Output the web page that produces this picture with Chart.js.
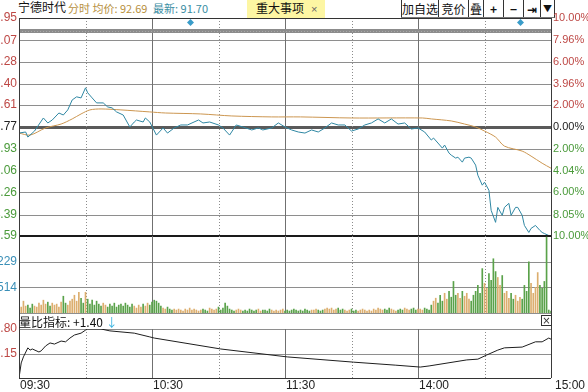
<!DOCTYPE html>
<html><head><meta charset="utf-8">
<script src="https://cdn.jsdelivr.net/npm/chart.js@4.4.1/dist/chart.umd.min.js"></script>
<style>
html,body{margin:0;padding:0;background:#fff}
body{width:588px;height:392px;overflow:hidden;position:relative;font-family:"Liberation Sans",Arial,"Noto Sans CJK SC",sans-serif}
canvas{position:absolute;left:0}
.t{position:absolute;white-space:nowrap;font-size:12px;line-height:14px}
.cjk{font-family:"Noto Sans CJK SC","Liberation Sans",sans-serif}
#evt{position:absolute;left:247px;top:0;width:78px;height:19px;background:#fdf6a3}
.btns{position:absolute;left:401px;top:0;height:17px;border-bottom:1px solid #777;border-right:1px solid #333;display:flex}
.btns span{display:block;height:17px;border-left:1px solid #333;font-size:12px;line-height:17px;text-align:center;color:#111;font-family:"Noto Sans CJK SC","DejaVu Sans",sans-serif}
#xbox{position:absolute;left:541px;top:315px;width:9px;height:9px;border:1px solid #333;font-size:10px;line-height:9px;text-align:center;color:#333;font-family:"DejaVu Sans",sans-serif}
</style></head><body>
<div class="t cjk" style="left:18px;top:0px;color:#111">宁德时代</div>
<div class="t cjk" style="left:68px;top:1px;font-size:11px;color:#b8913f">分时&nbsp;均价: 92.69</div>
<div class="t cjk" style="left:153px;top:1px;font-size:11px;color:#3b8ea3">最新: 91.70</div>
<div id="evt"></div>
<div class="t cjk" style="left:256px;top:1px;font-size:12px;color:#111">重大事项</div>
<div class="t" style="left:311px;top:2px;font-size:11px;color:#666">×</div>
<div class="btns">
<span style="width:36px">加自选</span><span style="width:29px">竞价</span><span style="width:14px">叠</span><span style="width:19px;font-weight:bold">+</span><span style="width:19px;font-weight:bold">−</span><span style="width:16px;font-weight:bold">⇥</span><span style="width:13px;font-size:9px">▼</span>
</div>
<canvas id="c1" width="588" height="240" style="top:0"></canvas>
<canvas id="c2" width="588" height="80" style="top:236px"></canvas>
<canvas id="c3" width="588" height="79" style="top:313px"></canvas>
<div class="t cjk" style="left:19px;top:315px;color:#111">量比指标: +1.40 <span style="color:#3cb4e0">↓</span></div>
<div id="xbox">×</div>
<script>
// ---------- data ----------
const prevClose = 91.77;
const priceTime = [0,3,4,7,11,13,15,18,20,22,24,26,28,30,31,33,35,38,40,42,44,47,50,52,53,56,57,59,62,65,67,70,73,76,81,83,86,90,92,95,98,101,105,108,110,114,117,120,123,126,129,132,135,138,141,144,147,150,153,156,159,162,165,168,171,174,177,180,183,186,187,189,191,192,194,195,197,198,200,201,203,204,206,207,209,210,212,213,215,216,218,219,221,222,224,225,227,228,230,231,233,235,236,237,239,240];
const priceVal = [91.26,91.35,90.92,91.43,92.53,92.11,92.36,92.95,92.78,93.21,94.05,94.31,94.22,95.07,94.65,94.22,93.80,93.80,93.46,93.38,93.04,92.78,91.77,92.19,92.36,92.19,92.53,92.19,91.09,91.69,91.26,91.69,91.94,91.94,92.36,92.11,92.19,91.94,91.69,91.09,91.94,91.77,91.52,91.69,91.52,91.69,92.11,91.77,91.52,91.35,91.26,91.52,91.35,91.69,92.11,91.94,91.94,91.43,91.60,91.94,92.11,92.45,92.11,92.45,92.02,92.11,91.60,91.69,91.35,90.67,90.84,90.42,89.99,90.25,89.57,89.40,89.15,89.23,88.81,89.15,89.23,89.15,88.56,87.71,86.87,87.12,86.44,84.75,83.74,85.00,84.33,85.00,85.34,84.33,85.00,85.00,84.33,83.48,82.89,83.23,83.48,83.06,82.89,82.80,82.63,82.59];
const avgTime = [0,5,12,19,24,28,32,37,46,59,66,82,96,114,127,150,182,186,195,201,206,210,215,219,227,231,236,240];
const avgVal = [91.26,91.09,91.69,92.02,92.45,92.87,93.21,93.29,93.21,93.04,92.95,92.87,92.70,92.62,92.62,92.53,92.53,92.45,92.28,92.02,91.77,91.43,90.92,90.16,89.74,89.32,88.72,88.30];
// volume per minute (hundreds of lots), minute 0..240
const volume = [54,36,72,42,48,30,54,42,36,60,48,78,54,66,42,60,48,54,36,66,102,60,48,72,84,108,72,126,90,60,126,84,54,78,48,72,
54,42,60,48,36,54,42,60,36,48,54,42,60,48,36,54,42,30,48,36,54,42,60,48,66,
78,72,60,42,30,24,36,24,18,24,
18,24,18,12,24,18,30,18,24,18,12,18,24,18,12,30,24,18,24,36,18,30,60,42,24,18,12,18,24,18,12,18,12,24,18,12,18,24,12,18,18,12,24,18,12,18,12,18,24,12,
18,12,18,24,18,12,18,12,24,18,12,18,18,24,18,12,18,24,30,24,30,18,24,30,18,24,18,12,18,24,12,18,12,18,24,18,12,18,12,24,18,30,24,18,24,18,30,24,18,12,18,24,18,30,24,18,24,30,18,24,24,18,30,24,18,
48,72,90,60,108,72,120,84,132,96,192,108,120,90,132,102,120,84,72,108,132,168,120,270,180,150,240,198,330,252,216,168,228,120,132,90,120,84,108,72,96,84,168,132,312,180,120,156,246,168,150,192,462,18,12];
const lbTime = [0,1,2,4,5,6,9,10,12,14,16,19,21,23,25,28,30,31,37,41,52,59,61,91,121,151,170,181,185,202,207,211,216,219,227,233,236,239,240];
const lbVal = [0.50,0.90,1.06,1.30,1.24,1.27,1.19,1.22,1.35,1.43,1.40,1.48,1.46,1.56,1.64,1.69,1.77,1.80,1.80,1.75,1.69,1.59,1.56,1.27,1.06,0.92,0.84,0.79,0.82,0.98,1.00,1.11,1.24,1.30,1.32,1.46,1.46,1.56,1.53];
const priceTicks = [100.95,99.07,97.28,95.40,93.61,91.77,89.93,88.06,86.26,84.39,82.59];
const priceTickLabels = ['100.95','99.07','97.28','95.40','93.61','91.77','89.93','88.06','86.26','84.39','82.59'];
const pctLabels = ['10.00%','7.96%','6.00%','3.96%','2.00%','0.00%','2.00%','4.04%','6.00%','8.05%','10.00%'];
const volTicks = [312.29,155.14];
const volTickLabels = ['31229','15514'];
const volMax = 468.43;
const lbTicks = [1.80,1.15];
const lbTickLabels = ['1.80','1.15'];
const timeTicks = [0,60,120,180,240];
const timeLabels = ['09:30','10:30','11:30','14:00','15:00'];
const solidMinutes = [60,120,180];
const dottedMinutes = [30,90,150,210];
const eventMarks = [77,226];

// ---------- helpers ----------
const RED='#bd4744', GREEN='#4a9a3a', BLACK='#222', BLUE='#3a8fb7';
const FONT='11px "Liberation Sans", Arial, sans-serif';
const LFONT='12px "Liberation Sans", Arial, sans-serif';
function hline(ctx,x1,x2,y,w,c,dash){ctx.save();ctx.lineWidth=w;ctx.strokeStyle=c;if(dash)ctx.setLineDash(dash);const yy=(w%2)?Math.round(y)+0.5:Math.round(y);ctx.beginPath();ctx.moveTo(x1,yy);ctx.lineTo(x2,yy);ctx.stroke();ctx.restore();}
function vline(ctx,x,y1,y2,w,c,dash){ctx.save();ctx.lineWidth=w;ctx.strokeStyle=c;if(dash)ctx.setLineDash(dash);const xx=(w%2)?Math.round(x)+0.5:Math.round(x);ctx.beginPath();ctx.moveTo(xx,y1);ctx.lineTo(xx,y2);ctx.stroke();ctx.restore();}
function vGrid(chart){
  const {ctx,chartArea:a,scales:{x}}=chart;
  solidMinutes.forEach(m=>vline(ctx,x.getPixelForValue(m),a.top,a.bottom,1,'#707070'));
  dottedMinutes.forEach(m=>vline(ctx,x.getPixelForValue(m),a.top,a.bottom,1,'#8c8c8c',[1,2]));
}
function borders(chart,y1,y2){
  const {ctx,chartArea:a}=chart;
  vline(ctx,a.left,y1,y2,1,'#3a3a3a');
  vline(ctx,a.right,y1,y2,1,'#3a3a3a');
}
const baseOpts = (pad)=>({
  responsive:false, animation:false, devicePixelRatio:1, events:[],
  layout:{padding:pad},
  plugins:{legend:{display:false},tooltip:{enabled:false}}
});

// ---------- price chart ----------
const pricePlugin = {
  id:'priceDeco',
  beforeDatasetsDraw(chart){
    const {ctx,chartArea:a,scales:{x,y}}=chart;
    priceTicks.forEach((p,i)=>{
      if(i===0||i===priceTicks.length-1) return;
      if(p===prevClose) hline(ctx,a.left,a.right,y.getPixelForValue(p),3,'#5a5a5a');
      else hline(ctx,a.left,a.right,y.getPixelForValue(p),1,'#8e8e8e');
    });
    vGrid(chart);
    // top marker strip
    hline(ctx,a.left,a.right,a.top+13,4,'#8c8c8c');
    hline(ctx,a.left,a.right,a.top+13,1,'#a8a8a8',[1,2]);
    ctx.save();ctx.fillStyle='#3a9cc9';
    eventMarks.forEach(m=>{const cx=Math.round(x.getPixelForValue(m))+0.5,cy=a.top+4.5;ctx.beginPath();ctx.moveTo(cx,cy-3.5);ctx.lineTo(cx+3.5,cy);ctx.lineTo(cx,cy+3.5);ctx.lineTo(cx-3.5,cy);ctx.closePath();ctx.fill();});
    ctx.restore();
  },
  afterDatasetsDraw(chart){
    const {ctx,chartArea:a,scales:{y}}=chart;
    hline(ctx,a.left,a.right,y.getPixelForValue(priceTicks[0]),1,'#333');
    hline(ctx,a.left,a.right,y.getPixelForValue(priceTicks[priceTicks.length-1]),2,'#1a1a1a');
    borders(chart,a.top,chart.height);
    ctx.save();ctx.textBaseline='middle';
    priceTicks.forEach((p,i)=>{
      const yy=y.getPixelForValue(p);
      const c = p>prevClose?RED:(p<prevClose?GREEN:BLACK);
      ctx.fillStyle=c;
      ctx.font=LFONT;ctx.textAlign='right';ctx.fillText(priceTickLabels[i],17,yy);
      ctx.font=FONT;ctx.textAlign='left';ctx.fillText(pctLabels[i],553,yy);
    });
    ctx.restore();
  }
};
new Chart(document.getElementById('c1'),{
  type:'line',
  data:{datasets:[
    {data:priceTime.map((t,i)=>({x:t,y:priceVal[i]})),borderColor:'#2f87a3',borderWidth:1,pointRadius:0,tension:0},
    {data:avgTime.map((t,i)=>({x:t,y:avgVal[i]})),borderColor:'#cc9650',borderWidth:1,pointRadius:0,tension:0.3}
  ]},
  options:Object.assign(baseOpts({left:19,right:37,top:18,bottom:4}),{
    scales:{x:{type:'linear',min:0,max:240,display:false},y:{min:priceTicks[priceTicks.length-1],max:priceTicks[0],display:false}}
  }),
  plugins:[pricePlugin]
});

// ---------- volume chart ----------
function barColor(m){
  let j=0; while(j+1<priceTime.length && priceTime[j+1]<=m) j++;
  const up = j>0 ? priceVal[j]>=priceVal[j-1] : true;
  return up ? '#dcae6e' : '#5aa24a';
}
const volPlugin = {
  id:'volDeco',
  beforeDatasetsDraw(chart){
    const {ctx,chartArea:a,scales:{y}}=chart;
    volTicks.forEach(v=>hline(ctx,a.left,a.right,y.getPixelForValue(v),1,'#8e8e8e'));
    hline(ctx,a.left,a.right,a.bottom,1,'#8e8e8e');
    vGrid(chart);
  },
  afterDatasetsDraw(chart){
    const {ctx,chartArea:a,scales:{y}}=chart;
    borders(chart,0,chart.height);
    ctx.save();ctx.font=LFONT;ctx.textBaseline='middle';ctx.fillStyle=BLUE;ctx.textAlign='right';
    volTicks.forEach((v,i)=>ctx.fillText(volTickLabels[i],17,y.getPixelForValue(v)));
    ctx.restore();
  }
};
new Chart(document.getElementById('c2'),{
  type:'bar',
  data:{datasets:[{data:volume.map((v,i)=>({x:i,y:v})),backgroundColor:volume.map((v,i)=>barColor(i)),barThickness:1,borderWidth:0}]},
  options:Object.assign(baseOpts({left:19,right:37,top:0,bottom:3}),{
    scales:{x:{type:'linear',min:0,max:240,display:false,offset:false},y:{min:0,max:volMax,display:false}}
  }),
  plugins:[volPlugin]
});

// ---------- 量比 chart ----------
const lbPlugin = {
  id:'lbDeco',
  beforeDatasetsDraw(chart){
    const {ctx,chartArea:a,scales:{y}}=chart;
    lbTicks.forEach(v=>hline(ctx,a.left,a.right,y.getPixelForValue(v),1,'#8e8e8e'));
    vGrid(chart);
  },
  afterDatasetsDraw(chart){
    const {ctx,chartArea:a,scales:{x,y}}=chart;
    hline(ctx,a.left,a.right,a.bottom,1,'#333');
    borders(chart,0,a.bottom);
    ctx.save();ctx.font=LFONT;ctx.textBaseline='middle';ctx.fillStyle=RED;ctx.textAlign='right';
    lbTicks.forEach((v,i)=>ctx.fillText(lbTickLabels[i],17,y.getPixelForValue(v)));
    ctx.font='12px "Liberation Sans", Arial, sans-serif';ctx.fillStyle='#222';ctx.textAlign='left';
    timeTicks.forEach((m,i)=>ctx.fillText(timeLabels[i],x.getPixelForValue(m)+(i===timeTicks.length-1?4:1),a.bottom+8));
    ctx.restore();
  }
};
new Chart(document.getElementById('c3'),{
  type:'line',
  data:{datasets:[{data:lbTime.map((t,i)=>({x:t,y:lbVal[i]})),borderColor:'#1e1e1e',borderWidth:1,pointRadius:0,tension:0}]},
  options:Object.assign(baseOpts({left:19,right:37,top:16,bottom:14}),{
    scales:{x:{type:'linear',min:0,max:240,display:false},y:{min:0.5,max:1.8,display:false}}
  }),
  plugins:[lbPlugin]
});
</script>
</body></html>
